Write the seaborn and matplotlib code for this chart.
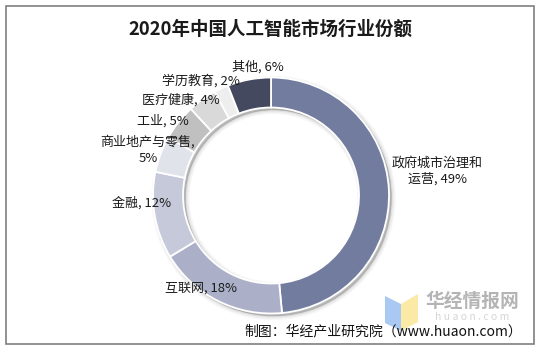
import matplotlib
matplotlib.use("Agg")
import matplotlib.pyplot as plt
from matplotlib.patches import Wedge, Rectangle, Polygon
import seaborn as sns

# Industry shares of China's AI market, 2020 (percent)
categories = ["政府城市治理和运营", "互联网", "金融", "商业地产与零售",
              "工业", "医疗健康", "学历教育", "其他"]
shares = [49, 18, 12, 5, 5, 4, 2, 6]
label_texts = ["政府城市治理和\n运营, 49%", "互联网, 18%", "金融, 12%",
               "商业地产与零售,\n5%", "工业, 5%", "医疗健康, 4%",
               "学历教育, 2%", "其他, 6%"]
slice_colors = ["#727c9f", "#abb0c8", "#c6c9da", "#e1e3eb",
                "#c0c0c0", "#d9d9d9", "#eeeeee", "#45495f"]
title = "2020年中国人工智能市场行业份额"
source = "制图：华经产业研究院（www.huaon.com）"

sns.set_theme(style="white")
plt.rcParams["font.family"] = ["Noto Sans CJK SC", "DejaVu Sans"]

W, H = 541, 350
fig = plt.figure(figsize=(W / 100, H / 100), dpi=100)
ax = fig.add_axes([0, 0, 1, 1])
ax.set_xlim(0, W)
ax.set_ylim(0, H)
ax.set_aspect("equal")
ax.axis("off")


def Y(y):
    """Convert a top-down pixel row into axes coordinates."""
    return H - y


cx, cy = 271, Y(195.5)
R, ring = 118, 30

# soft drop shadow under the ring
for lw, a in [(6, 0.03), (4, 0.04), (2, 0.06), (0.5, 0.08)]:
    ax.add_patch(Wedge((cx + 2.5, cy - 2.5), R, 0, 360, width=ring,
                       facecolor="#000000", edgecolor="#000000",
                       linewidth=lw, alpha=a, zorder=1))

ax.pie(shares, colors=slice_colors, startangle=90, counterclock=False,
       radius=R, center=(cx, cy), frame=True,
       wedgeprops=dict(width=ring, edgecolor="white", linewidth=1.3,
                       zorder=2))
ax.set_xlim(0, W)
ax.set_ylim(0, H)
ax.axis("off")

# category labels placed around the ring
label_pos = [(437, 171), (201, 288), (142, 203), (148, 150),
             (163, 121), (181, 100), (201, 81), (258, 67)]
for txt, (x, y) in zip(label_texts, label_pos):
    ax.text(x, Y(y), txt, ha="center", va="center", fontsize=9.4,
            color="#1a1a1a", linespacing=1.3, zorder=5)

ax.text(270, Y(29.5), title, ha="center", va="center", fontsize=13.3,
        fontweight="bold", color="#1a1a1a")

# watermark
ax.add_patch(Polygon([(385, Y(296)), (401, Y(304)), (401, Y(331)), (385, Y(323))],
                     closed=True, facecolor="#a9c9f2", edgecolor="none", zorder=3))
ax.add_patch(Polygon([(401, Y(304)), (418, Y(294)), (418, Y(322)), (401, Y(331))],
                     closed=True, facecolor="#fbeaa6", edgecolor="none", zorder=3))
ax.text(472, Y(301), "华经情报网", ha="center", va="center", fontsize=13.5,
        fontweight="bold", color="#b4b4b4", zorder=3)
ax.text(472, Y(316.5), "h u a o n . c o m", ha="center", va="center",
        fontsize=7.5, color="#d6d6d6", zorder=3)

ax.text(522, Y(331), source, ha="right", va="center", fontsize=10,
        color="#111111", zorder=6)

# outer frame
ax.add_patch(Rectangle((5.5, Y(344)), 528, 338, facecolor="none",
                       edgecolor="#7f7f7f", linewidth=1.2, zorder=7))

fig.savefig("out.png", dpi=100)
